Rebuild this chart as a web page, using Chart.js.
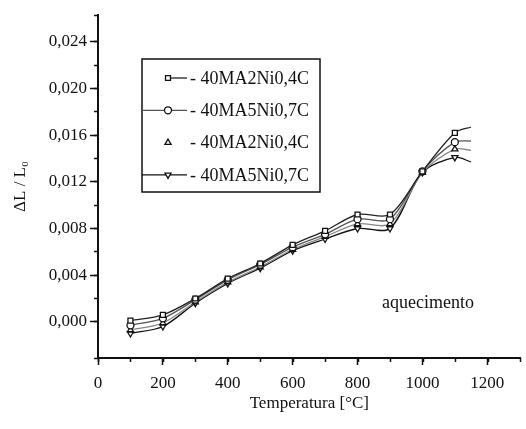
<!DOCTYPE html>
<html>
<head>
<meta charset="utf-8">
<title>Dilatometria - aquecimento</title>
<script src="https://cdn.jsdelivr.net/npm/chart.js@4.4.1/dist/chart.umd.min.js"></script>
<style>
    html, body { margin: 0; padding: 0; background: #fff; }
    #caixa { width: 526px; height: 429px; }
</style>
</head>
<body>
<div id="caixa"><canvas id="graficoDilatacao" width="526" height="429"></canvas></div>
<script>
// Temperaturas das leituras (°C) - o último ponto é só o fim da curva, sem marcador
const temperaturas = [100, 200, 300, 400, 500, 600, 700, 800, 900, 1000, 1100, 1150];

// Dilatação relativa ΔL/L0 de cada amostra
const serieQuadrado  = [0.0001, 0.0006, 0.0020, 0.0037, 0.0050, 0.0066, 0.0078, 0.0092, 0.0092, 0.0129, 0.0162, 0.0167];
const serieCirculo   = [-0.0003, 0.0003, 0.0019, 0.0036, 0.0049, 0.0064, 0.0075, 0.0088, 0.0088, 0.0129, 0.0154, 0.0155];
const serieTriangulo = [-0.0007, -0.0001, 0.0017, 0.0034, 0.0047, 0.0062, 0.0073, 0.0084, 0.0084, 0.0128, 0.0148, 0.0147];
const serieInvertido = [-0.0010, -0.0004, 0.0016, 0.0033, 0.0046, 0.0061, 0.0071, 0.0080, 0.0080, 0.0128, 0.0141, 0.0137];

const rotulos = ['40MA2Ni0,4C', '40MA5Ni0,7C', '40MA2Ni0,4C', '40MA5Ni0,7C'];

// Marcas dos eixos
const ticksX = [0, 200, 400, 600, 800, 1000, 1200];
const ticksY = [0, 0.004, 0.008, 0.012, 0.016, 0.020, 0.024];

const FONTE = "'Liberation Serif', 'Times New Roman', serif";
const PRETO = '#111';

// Monta um dataset (para não repetir código)
function montarSerie(label, valores, estilo, rotacao, cor) {
    return {
        label: label,
        data: temperaturas.map((t, i) => ({ x: t, y: valores[i] })),
        borderColor: cor,
        borderWidth: 1.3,
        pointStyle: estilo,
        pointRotation: rotacao,
        pointRadius: ctx => (ctx.dataIndex === temperaturas.length - 1 ? 0 : 3.5),
        pointBorderColor: PRETO,
        pointBackgroundColor: '#fff',
        pointBorderWidth: 1.3,
        tension: 0.3,
        fill: false
    };
}

// Legenda dentro da área do gráfico, como no original
const legendaInterna = {
    id: 'legendaInterna',
    afterDraw(chart) {
        const ctx = chart.ctx;
        const inicioLinha = [168, 142, null, 142]; // 3ª entrada só tem o marcador
        ctx.save();
        ctx.strokeStyle = PRETO;
        ctx.lineWidth = 1.5;
        ctx.strokeRect(142, 59, 178, 133);

        chart.data.datasets.forEach((ds, i) => {
            const y = 78 + i * 32.3;
            if (inicioLinha[i] !== null) {
                ctx.strokeStyle = ds.borderColor;
                ctx.lineWidth = 1.3;
                ctx.beginPath();
                ctx.moveTo(inicioLinha[i], y);
                ctx.lineTo(187, y);
                ctx.stroke();
            }
            ctx.strokeStyle = PRETO;
            ctx.fillStyle = '#fff';
            ctx.lineWidth = 1.3;
            Chart.helpers.drawPoint(ctx, {
                pointStyle: ds.pointStyle,
                rotation: ds.pointRotation,
                radius: 3.5,
                borderWidth: 1.3
            }, 168, y);

            ctx.fillStyle = PRETO;
            ctx.font = '18px ' + FONTE;
            ctx.textBaseline = 'middle';
            ctx.textAlign = 'left';
            ctx.fillText('- ' + ds.label, 190, y + 1);
        });

        // anotação "aquecimento"
        const px = chart.scales.x.getPixelForValue(1017);
        const py = chart.scales.y.getPixelForValue(0.0016);
        ctx.font = '18px ' + FONTE;
        ctx.textAlign = 'center';
        ctx.fillText('aquecimento', px, py);
        ctx.restore();
    }
};

function iniciarGrafico() {
    const ctx = document.getElementById('graficoDilatacao').getContext('2d');
    return new Chart(ctx, {
        type: 'line',
        data: {
            datasets: [
                montarSerie(rotulos[0], serieQuadrado, 'rect', 0, '#222'),
                montarSerie(rotulos[1], serieCirculo, 'circle', 0, '#555'),
                montarSerie(rotulos[2], serieTriangulo, 'triangle', 0, '#888'),
                montarSerie(rotulos[3], serieInvertido, 'triangle', 180, PRETO)
            ]
        },
        options: {
            responsive: false,
            animation: false,
            devicePixelRatio: 1,
            layout: { padding: { top: 15, right: 0, left: 0, bottom: 0 } },
            plugins: {
                legend: { display: false },
                tooltip: { enabled: false }
            },
            scales: {
                x: {
                    type: 'linear',
                    position: 'bottom',
                    weight: 1,
                    min: 0,
                    max: 1303,
                    afterBuildTicks: s => { s.ticks = ticksX.map(v => ({ value: v })); },
                    afterFit: s => { s.height = 71; },
                    border: { display: true, color: PRETO, width: 2 },
                    grid: { drawOnChartArea: false, tickLength: 7, tickWidth: 1.5, tickColor: PRETO },
                    ticks: {
                        color: PRETO,
                        padding: 8,
                        maxRotation: 0,
                        font: { family: FONTE, size: 17 },
                        callback: v => String(v)
                    },
                    title: {
                        display: true,
                        text: 'Temperatura [°C]',
                        color: PRETO,
                        font: { family: FONTE, size: 17 },
                        padding: { top: 0, bottom: 15 }
                    }
                },
                xMenor: {
                    type: 'linear',
                    position: 'bottom',
                    weight: 0,
                    min: 0,
                    max: 1303,
                    ticks: { stepSize: 100, display: false },
                    afterFit: s => { s.height = 0; },
                    border: { display: false },
                    grid: { drawOnChartArea: false, tickLength: 4, tickWidth: 1.5, tickColor: PRETO }
                },
                y: {
                    type: 'linear',
                    position: 'left',
                    weight: 1,
                    min: -0.0031,
                    max: 0.0263,
                    afterBuildTicks: s => { s.ticks = ticksY.map(v => ({ value: v })); },
                    afterFit: s => { s.width = 98; },
                    border: { display: true, color: PRETO, width: 2 },
                    grid: { drawOnChartArea: false, tickLength: 8, tickWidth: 1.5, tickColor: PRETO },
                    ticks: {
                        color: PRETO,
                        padding: 3,
                        font: { family: FONTE, size: 17 },
                        callback: v => v.toFixed(3).replace('.', ',')
                    },
                    title: {
                        display: true,
                        text: 'ΔL / L₀',
                        color: PRETO,
                        font: { family: FONTE, size: 17 },
                        padding: { top: 10, bottom: 0 }
                    }
                },
                yMenor: {
                    type: 'linear',
                    position: 'left',
                    weight: 0,
                    min: -0.0031,
                    max: 0.0263,
                    ticks: { stepSize: 0.002, display: false },
                    afterFit: s => { s.width = 0; },
                    border: { display: false },
                    grid: { drawOnChartArea: false, tickLength: 4, tickWidth: 1.5, tickColor: PRETO }
                }
            }
        },
        plugins: [legendaInterna]
    });
}

document.addEventListener('DOMContentLoaded', () => {
    iniciarGrafico();
});
</script>
</body>
</html>
